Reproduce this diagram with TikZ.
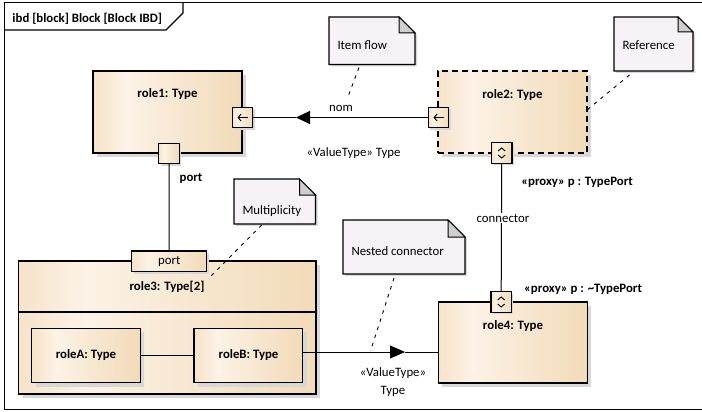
\documentclass[tikz,border=0pt]{standalone}
\usepackage{fontspec}
\setmainfont{Carlito}
\usetikzlibrary{arrows.meta,shadows}
\definecolor{blkA}{HTML}{F6E3C9}
\definecolor{blkB}{HTML}{FCF2E6}
\definecolor{blkC}{HTML}{F2DBB8}
\definecolor{shadowc}{HTML}{D8D8D8}
\definecolor{notefill}{HTML}{F6F2F6}
\definecolor{foldc}{HTML}{CFCFCF}
\pgfdeclarehorizontalshading{blkshade}{100bp}{color(0bp)=(blkA); color(25bp)=(blkA); color(36bp)=(blkB); color(75bp)=(blkC); color(100bp)=(blkC)}
\tikzset{
  txt/.style={font=\fontsize{12.8}{15}\selectfont, inner sep=0pt, outer sep=0pt},
  btxt/.style={font=\fontsize{12.8}{15}\selectfont\bfseries, inner sep=0pt, outer sep=0pt},
  block/.style={draw, line width=1.2pt, shading=blkshade, inner sep=0pt, outer sep=0pt,
    drop shadow={shadow xshift=4pt, shadow yshift=-4pt, opacity=1, fill=shadowc}},
  refblock/.style={block, dash pattern=on 6pt off 4pt},
  portbox/.style={draw, line width=1.1pt, shading=blkshade, inner sep=0pt, outer sep=0pt,
    minimum width=20.5pt, minimum height=20.5pt,
    drop shadow={shadow xshift=2pt, shadow yshift=-2pt, opacity=1, fill=shadowc}},
  conn/.style={line width=1pt},
  noteline/.style={line width=0.9pt, dash pattern=on 3.5pt off 5pt},
  notebody/.style={draw=none, inner sep=0pt, outer sep=0pt},
  sym/.style={line width=0.9pt},
  framebox/.style={draw, line width=1.4pt, inner sep=0pt, outer sep=0pt}
}
\newcommand\umlnote[8]{% name, x, y, w, h, fold, text, baseline offset
  \node[notebody, minimum width=#4pt, minimum height=#5pt, anchor=north west] (#1) at (#2,#3) {};
  \fill[shadowc] ([xshift=2pt,yshift=-2pt]#1.north west) -- ([xshift=2pt-#6pt,yshift=-2pt]#1.north east)
     -- ([xshift=2pt,yshift=-2pt-#6pt]#1.north east) -- ([xshift=2pt,yshift=-2pt]#1.south east)
     -- ([xshift=2pt,yshift=-2pt]#1.south west) -- cycle;
  \draw[line width=1.1pt, fill=notefill] (#1.north west) -- ([xshift=-#6pt]#1.north east)
     -- ([yshift=-#6pt]#1.north east) -- (#1.south east) -- (#1.south west) -- cycle;
  \draw[line width=1pt, fill=foldc] ([xshift=-#6pt]#1.north east) -- ([xshift=-#6pt,yshift=-#6pt]#1.north east)
     -- ([yshift=-#6pt]#1.north east) -- cycle;
  \node[txt, anchor=base west] (#1t) at ([xshift=8.5pt,yshift=-#8pt]#1.north west) {#7};
}
\newcommand\leftsym[1]{%
  \draw[sym, {Straight Barb[length=3pt,width=7pt]}-] ([xshift=-5pt]#1.center) -- ([xshift=5pt]#1.center);
}
\newcommand\updownsym[1]{%
  \draw[sym] ([xshift=-3.5pt,yshift=2pt]#1.center) -- ([yshift=5pt]#1.center) -- ([xshift=3.5pt,yshift=2pt]#1.center);
  \draw[sym] ([xshift=-3.5pt,yshift=-2pt]#1.center) -- ([yshift=-5pt]#1.center) -- ([xshift=3.5pt,yshift=-2pt]#1.center);
}
\begin{document}
\begin{tikzpicture}[x=1pt,y=-1pt]
\useasboundingbox (0,0) rectangle (702,412);
\fill[white] (0,0) rectangle (702,412);
% frame
\node[framebox, minimum width=705pt, minimum height=407pt, anchor=north west] (frame) at (4.5,2.5) {};
\draw[line width=1.2pt] (183,2.5) -- (183,13) -- (166,30) -- (4.5,30);
\node[btxt, anchor=west] (title) at (12.5,18.5) {ibd [block] Block [Block IBD]};

% blocks
\node[block, minimum width=149pt, minimum height=82pt, anchor=north west] (r1) at (93,71) {};
\node[btxt] (r1t) at (167.5,94.5) {role1: Type};
\node[refblock, minimum width=149pt, minimum height=82pt, anchor=north west] (r2) at (438,71) {};
\node[btxt] (r2t) at (512.5,95) {role2: Type};
\node[block, minimum width=297.5pt, minimum height=133pt, anchor=north west] (r3) at (18.5,261) {};
\draw[line width=1.2pt] ([yshift=-51pt]r3.north west) -- ([yshift=-51pt]r3.north east);
\node[btxt] (r3t) at (167,287) {role3: Type[2]};
\node[block, minimum width=108.5pt, minimum height=54.5pt, anchor=north west] (rA) at (31.7,328.3) {};
\node[btxt] (rAt) at (86,355.5) {roleA: Type};
\node[block, minimum width=108.5pt, minimum height=54.5pt, anchor=north west] (rB) at (194,328.3) {};
\node[btxt] (rBt) at (248.5,355.5) {roleB: Type};
\node[block, minimum width=149pt, minimum height=81pt, anchor=north west] (r4) at (438.3,302) {};
\node[btxt] (r4t) at (513,326) {role4: Type};

% ports
\node[portbox] (p1r) at (242.5,117.5) {};
\leftsym{p1r}
\node[portbox] (p1b) at (169,153.3) {};
\node[portbox] (p2l) at (438.5,117.5) {};
\leftsym{p2l}
\node[portbox] (p2b) at (501.7,153) {};
\updownsym{p2b}
\node[portbox] (p4t) at (501.2,302) {};
\updownsym{p4t}
\node[portbox, minimum width=75pt, minimum height=20.7pt] (p3) at (169.2,261.3) {};
\node[txt] (p3t) at (169.2,261.3) {port};

% connectors
\draw[conn] (p1b.south) -- (p3.north);
\draw[conn] (p2b.south) -- (p4t.north);
\node[txt, fill=white, inner sep=1pt] (cl) at (503,218.3) {connector};
\coordinate (a1) at (296,117.5);
\draw[conn, -{Triangle[length=14pt,width=13pt]}] (p2l.west) -- (a1);
\draw[conn] (a1) -- (p1r.east);
\draw[conn] (rA.east) -- (rB.west);
\coordinate (b0) at (302.7,352);
\coordinate (a2) at (405,352);
\draw[conn, -{Triangle[length=15pt,width=13pt]}] (b0) -- (a2);
\draw[conn] (a2) -- (r4.west |- a2);

% labels
\node[btxt] (portl) at (191,178.3) {port};
\node[txt] (nom) at (341,108.3) {nom};
\node[txt] (vt1) at (353.5,153.3) {«ValueType» Type};
\node[btxt] (px1) at (577,182) {«proxy» p : TypePort};
\node[btxt] (px2) at (583,289) {«proxy» p : \textasciitilde TypePort};
\node[txt] (vt2) at (393,373.3) {«ValueType»};
\node[txt] (vt2b) at (393,391) {Type};

% notes
\umlnote{n1}{329}{17}{86}{47.5}{16}{Item flow}{33}
\umlnote{n2}{614}{17}{79}{54}{15}{Reference}{33}
\umlnote{n3}{234}{179}{81.5}{45}{16}{Multiplicity}{35}
\umlnote{n4}{343}{220}{122}{54}{17}{Nested connector}{35}

% note links
\coordinate (e1) at (347.5,98);
\draw[noteline] ([xshift=-13pt,yshift=-3pt]n1.south) -- (e1);
\coordinate (e2) at (587,110);
\draw[noteline] ([xshift=-24pt,yshift=-4pt]n2.south) -- (e2);
\coordinate (e3) at (210,277);
\draw[noteline] ([xshift=-13pt,yshift=-1pt]n3.south) -- (e3);
\coordinate (e4) at (370.5,351);
\draw[noteline] ([xshift=-10pt,yshift=-4pt]n4.south) -- (e4);
\end{tikzpicture}
\end{document}
